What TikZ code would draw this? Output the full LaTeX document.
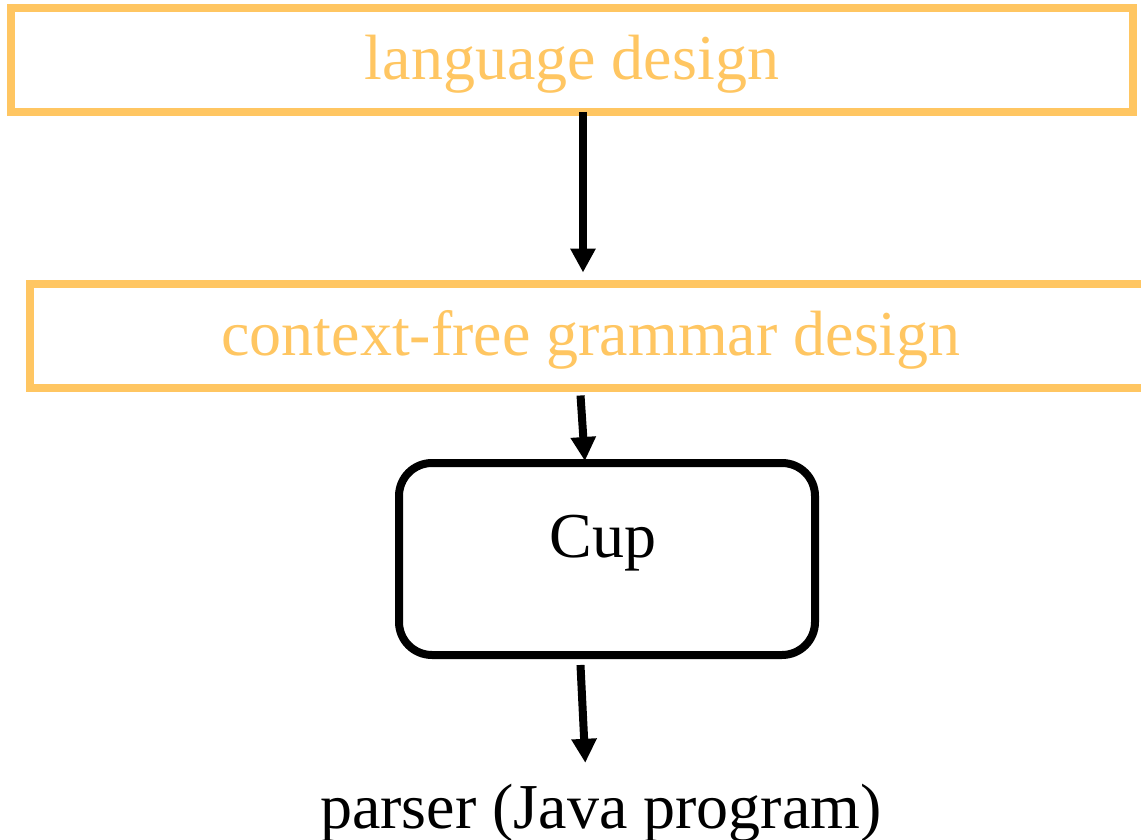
\documentclass[tikz,border=0pt]{standalone}
\usepackage{fontspec}
\setmainfont{Liberation Serif}
\usetikzlibrary{arrows.meta}
\definecolor{boxorange}{RGB}{255,198,98}
\begin{document}
\begin{tikzpicture}[x=1pt,y=-1pt,
  font=\fontsize{64}{72}\selectfont,
  stagebox/.style={draw=boxorange,text=boxorange,line width=8pt,inner sep=0pt,outer sep=0pt,
    minimum width=1122pt,minimum height=104pt,text height=50pt,text depth=10pt},
  toolbox/.style={draw=black,line width=8pt,rounded corners=33pt,inner sep=0pt,outer sep=0pt,
    minimum width=416pt,minimum height=192pt,text height=20pt,text depth=24pt},
  arr/.style={line width=8pt,-{Triangle[width=24pt,length=24pt]}}]
\useasboundingbox (0,0) rectangle (1141,840);
\clip (0,0) rectangle (1141,840);
\node[stagebox] (ld) at (572,60) {language design};
\node[stagebox] (cfg) at (591,335.5) {context-free grammar design};
\node[toolbox] (cup) at (607,559) {\hspace*{-8pt}Cup};
\node[anchor=base,inner sep=0pt,text height=50pt] (parser) at (601,828) {parser (Java program)};
\draw[arr,shorten >=11pt] (ld.south -| 583,0) -- (cfg.north -| 583,0);
\draw[arr,shorten <=8pt,shorten >=2pt] (cfg.south -| 580,0) -- (cup.north -| 585,0);
\draw[arr,shorten <=10pt,shorten >=15pt] (cup.south -| 580,0) -- (parser.north -| 586,0);
\end{tikzpicture}
\end{document}
